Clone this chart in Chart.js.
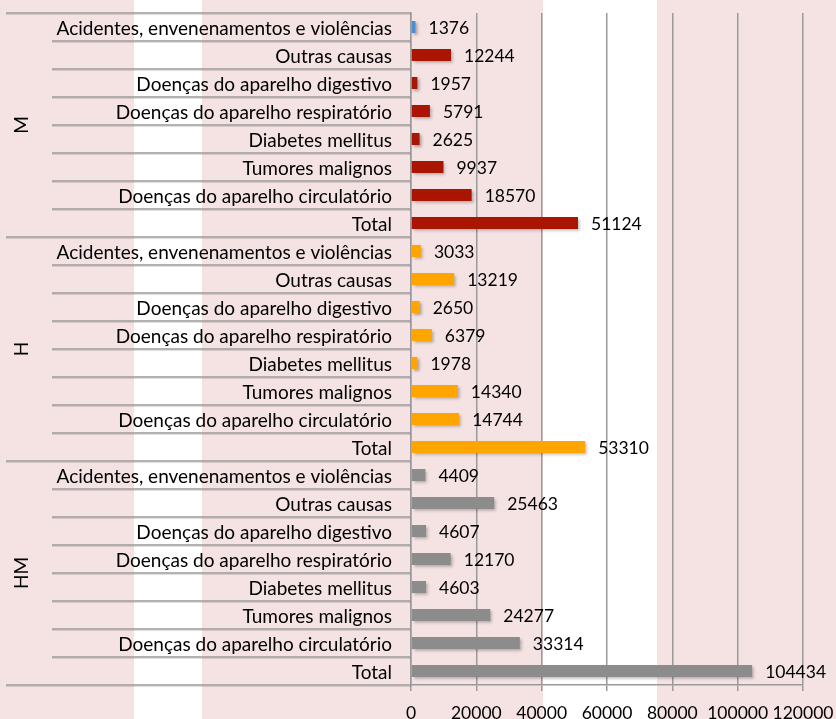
<!DOCTYPE html>
<html>
<head>
<meta charset="utf-8">
<script src="https://cdn.jsdelivr.net/npm/chart.js@4"></script>
<style>
  body { margin: 0; }
  #wrap {
    width: 836px; height: 719px;
    background: linear-gradient(to right,
      #F5E3E4 0, #F5E3E4 134px, #fff 134px, #fff 202px,
      #F5E3E4 202px, #F5E3E4 543px, #fff 543px, #fff 657px,
      #F5E3E4 657px, #F5E3E4 836px);
  }
</style>
</head>
<body>
<div id="wrap"><canvas id="chart"></canvas></div>
<script>
// data
const groups = ["M", "H", "HM"];
const causes = [
  "Acidentes, envenenamentos e violências",
  "Outras causas",
  "Doenças do aparelho digestivo",
  "Doenças do aparelho respiratório",
  "Diabetes mellitus",
  "Tumores malignos",
  "Doenças do aparelho circulatório",
  "Total"
];
const valuesM = [1376, 12244, 1957, 5791, 2625, 9937, 18570, 51124];
const valuesH = [3033, 13219, 2650, 6379, 1978, 14340, 14744, 53310];
const valuesHM = [4409, 25463, 4607, 12170, 4603, 24277, 33314, 104434];
const xTicks = [0, 20000, 40000, 60000, 80000, 100000, 120000];

const FONT = "Lato";
const FS = 19;      // category text
const NUM_FS = 17.5; // numbers
const groupColors = ["#A91500", "#FFA500", "#8C8C8C"];
const firstBarColor = "#4A8FD6";
const lineColor = "#9A9A9A";

const labels = groups.flatMap(() => causes);
const values = [...valuesM, ...valuesH, ...valuesHM];
const colors = labels.map((_, i) => groupColors[Math.floor(i / causes.length)]);
colors[0] = firstBarColor;

// row separators, group labels, value labels
const decor = {
  id: "decor",
  beforeDatasetsDraw(chart) {
    const ctx = chart.ctx;
    ctx.save();
    ctx.shadowColor = "rgba(0,0,0,0.3)";
    ctx.shadowOffsetX = 2;
    ctx.shadowOffsetY = 2;
    ctx.shadowBlur = 3;
  },
  afterDatasetsDraw(chart) {
    const ctx = chart.ctx;
    ctx.restore();
    const y = chart.scales.y;
    const left = chart.chartArea.left;
    const rowH = (y.bottom - y.top) / labels.length;

    ctx.save();
    for (let i = 0; i <= labels.length; i++) {
      const yy = Math.round(y.top + i * rowH);
      const x0 = i % causes.length === 0 ? 6 : 52;
      ctx.strokeStyle = "rgba(0,0,0,0.12)";
      ctx.lineWidth = 1;
      ctx.beginPath(); ctx.moveTo(x0, yy + 1.5); ctx.lineTo(left, yy + 1.5); ctx.stroke();
      ctx.strokeStyle = lineColor;
      ctx.lineWidth = 1.5;
      ctx.beginPath(); ctx.moveTo(x0, yy); ctx.lineTo(left, yy); ctx.stroke();
    }

    ctx.fillStyle = "#000";
    ctx.font = FS + "px " + FONT;
    ctx.textAlign = "center";
    ctx.textBaseline = "middle";
    groups.forEach((g, gi) => {
      const cy = y.top + (gi + 0.5) * causes.length * rowH;
      ctx.save();
      ctx.translate(22, cy);
      ctx.rotate(-Math.PI / 2);
      ctx.fillText(g, 0, 0);
      ctx.restore();
    });

    const meta = chart.getDatasetMeta(0);
    ctx.font = NUM_FS + "px " + FONT;
    ctx.textAlign = "left";
    ctx.textBaseline = "alphabetic";
    meta.data.forEach((bar, i) => {
      ctx.fillText(String(values[i]), bar.x + 13, bar.y + 7);
    });
    ctx.restore();
  }
};

new Chart(document.getElementById("chart"), {
  type: "bar",
  data: {
    labels: labels,
    datasets: [{
      data: values,
      backgroundColor: colors,
      borderWidth: 0,
      categoryPercentage: 1,
      barPercentage: 0.43
    }]
  },
  options: {
    indexAxis: "y",
    responsive: true,
    maintainAspectRatio: false,
    animation: false,
    layout: { padding: { top: 13, right: 33, left: 0, bottom: 0 } },
    plugins: { legend: { display: false }, tooltip: { enabled: false } },
    scales: {
      y: {
        grid: { display: false, drawTicks: false },
        border: { display: true, color: lineColor, width: 1.5 },
        ticks: {
          color: "#000",
          font: { family: FONT, size: FS },
          padding: 19,
          labelOffset: 2,
          autoSkip: false
        },
        afterFit(scale) {
          scale.width = 411;
          scale.paddingTop = 0;
          scale.paddingBottom = 0;
        }
      },
      x: {
        min: 0,
        max: 120000,
        afterBuildTicks(scale) { scale.ticks = xTicks.map(v => ({ value: v })); },
        grid: { color: lineColor, lineWidth: 1.5, tickLength: 6 },
        border: { display: true, color: lineColor, width: 1.5 },
        ticks: {
          color: "#000",
          font: { family: FONT, size: NUM_FS },
          padding: 12,
          maxRotation: 0,
          autoSkip: false,
          callback: v => String(v)
        },
        afterFit(scale) {
          scale.height = 34;
          scale.paddingLeft = 0;
          scale.paddingRight = 0;
        }
      }
    }
  },
  plugins: [decor]
});
</script>
</body>
</html>
